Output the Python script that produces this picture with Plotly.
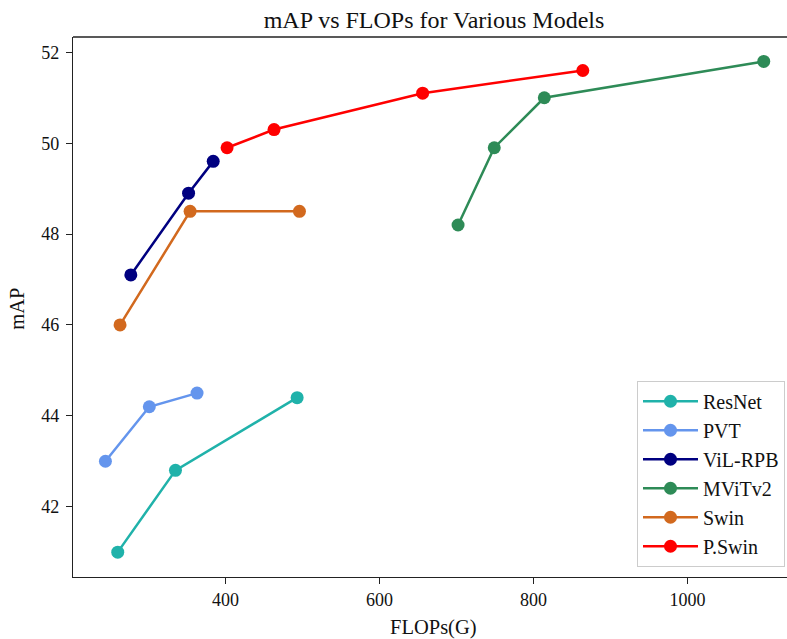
import plotly.graph_objects as go

# Model families and their (FLOPs, mAP) results
models = ["ResNet", "PVT", "ViL-RPB", "MViTv2", "Swin", "P.Swin"]
colors = ["#20B2AA", "#6495ED", "#000080", "#2E8B57", "#D2691E", "#FF0000"]

resnet_flops = [260, 335, 493]
resnet_map = [41.0, 42.8, 44.4]

pvt_flops = [244, 301, 363]
pvt_map = [43.0, 44.2, 44.5]

vil_flops = [277, 352, 384]
vil_map = [47.1, 48.9, 49.6]

mvit_flops = [702, 749, 814, 1099]
mvit_map = [48.2, 49.9, 51.0, 51.8]

swin_flops = [263, 354, 496]
swin_map = [46.0, 48.5, 48.5]

pswin_flops = [402, 463, 656, 864]
pswin_map = [49.9, 50.3, 51.1, 51.6]

x_ticks = [400, 600, 800, 1000]
y_ticks = [42, 44, 46, 48, 50, 52]

series_x = [resnet_flops, pvt_flops, vil_flops, mvit_flops, swin_flops, pswin_flops]
series_y = [resnet_map, pvt_map, vil_map, mvit_map, swin_map, pswin_map]

FONT = "Liberation Serif, Times New Roman, serif"

fig = go.Figure()
for name, color, xs, ys in zip(models, colors, series_x, series_y):
    fig.add_trace(go.Scatter(
        x=xs, y=ys, name=name, mode="lines+markers",
        line=dict(color=color, width=2.5),
        marker=dict(color=color, size=13),
    ))

axis_common = dict(
    showgrid=False, zeroline=False, showline=True, linecolor="#222222",
    linewidth=1.3, ticks="outside", ticklen=6, tickwidth=1.2,
    tickcolor="#222222", tickfont=dict(family=FONT, size=18, color="#111111"),
)

fig.update_layout(
    width=787, height=639,
    margin=dict(l=73, r=0, t=37, b=62),
    paper_bgcolor="white", plot_bgcolor="white",
    font=dict(family=FONT, color="#111111"),
    title=dict(text="mAP vs FLOPs for Various Models", x=0.5515, xanchor="center",
               y=1 - 20 / 639, yanchor="middle", xref="container", yref="container",
               font=dict(family=FONT, size=24, color="#111111")),
    xaxis=dict(range=[201.9, 1129.2], tickvals=x_ticks, **axis_common),
    yaxis=dict(range=[40.453, 52.337], tickvals=y_ticks, ticklabelstandoff=3, **axis_common),
    legend=dict(x=0.9972, y=0.019, xanchor="right", yanchor="bottom",
                bgcolor="white", bordercolor="#cccccc", borderwidth=1,
                itemwidth=55,
                font=dict(family=FONT, size=20, color="#111111")),
    showlegend=True,
)

# Top spine of the axes frame
fig.add_shape(type="line", xref="paper", yref="paper", x0=0, x1=1, y0=1, y1=1,
              line=dict(color="#222222", width=1.3))

fig.add_annotation(text="FLOPs(G)", xref="paper", yref="paper", x=0.5056, y=-0.0926,
                   xanchor="center", yanchor="middle", showarrow=False,
                   font=dict(family=FONT, size=20.5, color="#111111"))
fig.add_annotation(text="mAP", xref="paper", yref="paper", x=-0.0777, y=0.496,
                   xanchor="center", yanchor="middle", textangle=-90, showarrow=False,
                   font=dict(family=FONT, size=20.5, color="#111111"))

fig.write_html("out.html")
